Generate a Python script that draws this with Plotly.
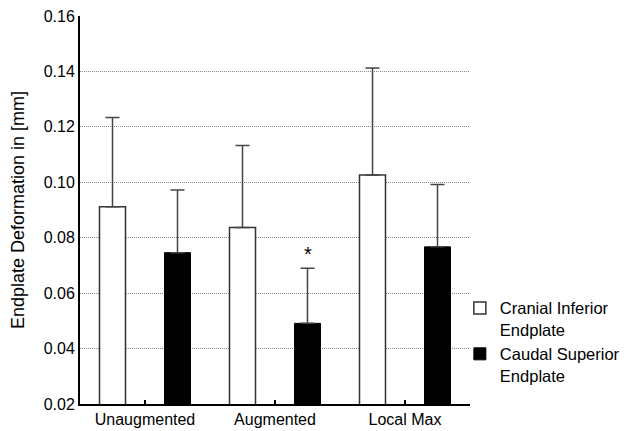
import plotly.graph_objects as go

categories = ["Unaugmented", "Augmented", "Local Max"]
cranial_mean = [0.0912, 0.0837, 0.1026]
cranial_sd = [0.0322, 0.0296, 0.0386]
caudal_mean = [0.0746, 0.0491, 0.0767]
caudal_sd = [0.0226, 0.0199, 0.0225]
series_names = ["Cranial Inferior<br>Endplate", "Caudal Superior<br>Endplate"]
y_ticks = [0.02, 0.04, 0.06, 0.08, 0.10, 0.12, 0.14, 0.16]
grid_ticks = [0.04, 0.06, 0.08, 0.10, 0.12, 0.14]
y_tick_text = ["0.02", "0.04", "0.06", "0.08", "0.10", "0.12", "0.14", "0.16"]
sig_category = "Augmented"

FONT = "Liberation Sans, Arial, sans-serif"

fig = go.Figure()
fig.add_trace(go.Bar(
    x=categories, y=cranial_mean, name=series_names[0],
    marker=dict(color="white", line=dict(color="#333333", width=1.5)),
    error_y=dict(type="data", array=cranial_sd, arrayminus=[0]*3, symmetric=False,
                 color="#444444", thickness=1.5, width=7),
))
fig.add_trace(go.Bar(
    x=categories, y=caudal_mean, name=series_names[1],
    marker=dict(color="black", line=dict(color="black", width=1)),
    error_y=dict(type="data", array=caudal_sd, arrayminus=[0]*3, symmetric=False,
                 color="#444444", thickness=1.5, width=7),
))
# invisible trace on overlay axis to carry gridlines
fig.add_trace(go.Scatter(x=categories, y=[None]*3, yaxis="y2", showlegend=False,
                         hoverinfo="skip"))

si = categories.index(sig_category)
fig.add_annotation(x=sig_category, y=caudal_mean[si] + caudal_sd[si], xshift=32.5, yshift=14,
                   text="*", showarrow=False, font=dict(family=FONT, size=20, color="black"))

fig.update_layout(
    width=622, height=423,
    margin=dict(l=72, r=160, t=8, b=27, autoexpand=False),
    paper_bgcolor="white", plot_bgcolor="white",
    barmode="group", bargap=0.0, bargroupgap=0.6,
    font=dict(family=FONT, size=16, color="black"),
    xaxis=dict(range=[-0.5, 2.5], showline=True, linecolor="black", linewidth=2,
               ticks="inside", ticklen=4, tickwidth=1.5, tickcolor="black",
               tickfont=dict(size=16), showgrid=False, automargin=False,
               ticklabeloverflow="allow"),
    yaxis=dict(range=[0.02, 0.16], tickvals=y_ticks, ticktext=y_tick_text,
               showline=True, linecolor="black", linewidth=2, showgrid=False,
               ticks="", tickfont=dict(size=16), automargin=False,
               ticklabeloverflow="allow",
               title=dict(text="Endplate Deformation in [mm]", font=dict(size=18), standoff=16)),
    yaxis2=dict(range=[0.02, 0.16], overlaying="y", tickvals=grid_ticks, showticklabels=False,
                showgrid=True, gridcolor="#888888", griddash="1px,1px", gridwidth=1,
                showline=False, zeroline=False, automargin=False),
    legend=dict(x=0.974, xanchor="left", y=0.292, yanchor="top", valign="top",
                font=dict(size=16.5), tracegroupgap=4, bgcolor="rgba(0,0,0,0)"),
    showlegend=True,
)
fig.write_html("out.html")
